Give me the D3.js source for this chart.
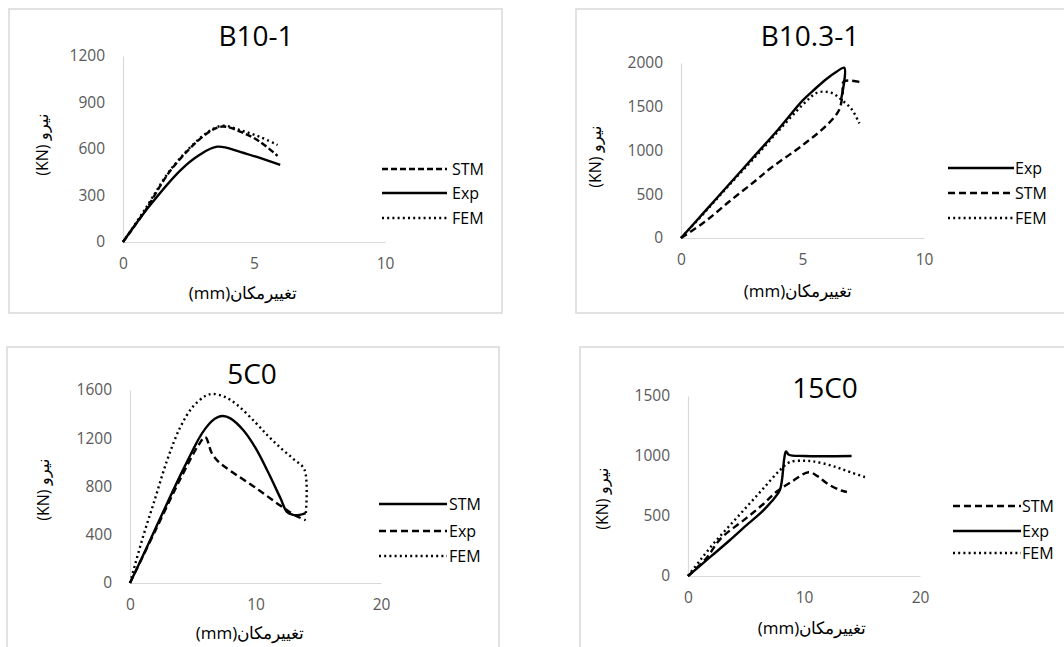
<!DOCTYPE html>
<html><head><meta charset="utf-8">
<script src="https://cdn.jsdelivr.net/npm/d3@7"></script>
<style>
html,body{margin:0;padding:0;background:#fff;}
svg text{font-family:"Open Sans","Noto Sans",sans-serif;}
</style></head>
<body><svg id="c" width="1064" height="647"></svg>
<script>
// ---------- data ----------
const titles = ["B10-1", "B10.3-1", "5C0", "15C0"];
const xTicks1 = [0, 5, 10];
const xTicks2 = [0, 10, 20];
const yTicksB101 = [0, 300, 600, 900, 1200];
const yTicksB103 = [0, 500, 1000, 1500, 2000];
const yTicks5C0 = [0, 400, 800, 1200, 1600];
const yTicks15C0 = [0, 500, 1000, 1500];
const xTitle = "(mm)تغییرمکان";
const yTitle = "(KN) نیرو";

// B10-1
const b101_STM = [[0,0],[0.8,190],[1.9,480],[3.2,700],[3.8,745],[4.5,710],[5.2,650],[5.9,555]];
const b101_Exp = [[0,0],[1,230],[2.2,464],[2.9,560],[3.6,615],[4.5,580],[6.0,497]];
const b101_FEM = [[0,0],[0.8,200],[1.9,485],[3.2,705],[3.8,750],[4.5,720],[5.2,680],[5.9,626]];
// B10.3-1
const b103_Exp = [[0,0],[1,310],[2,620],[3,930],[4,1240],[5,1570],[5.5,1700],[6,1820],[6.4,1900],[6.72,1946],[6.6,1600]];
const b103_STM = [[0,0],[1,190],[2,420],[3,640],[3.7,800],[5,1060],[6,1290],[6.5,1460],[6.65,1650],[6.7,1790],[7.5,1775]];
const b103_FEM = [[0,0],[1,300],[2,610],[3,910],[4,1220],[5,1520],[5.6,1660],[6.0,1670],[6.3,1645],[6.6,1580],[7.0,1480],[7.34,1310]];
// 5C0
const c5_STM = [[0,0],[1,220],[2,445],[3,670],[4,890],[5,1100],[5.5,1200],[6,1280],[6.5,1340],[7,1375],[7.4,1385],[8,1365],[9,1270],[10,1120],[11,920],[12,700],[12.5,590],[13,565],[13.5,565],[14,580]];
const c5_Exp = [[0,0],[2,430],[4,860],[5.5,1150],[6,1210],[6.5,1080],[7,1010],[8,930],[10,790],[12,640],[13,570],[14,520]];
const c5_FEM = [[0,0],[1,370],[2,700],[3,1030],[4,1290],[5,1460],[6,1550],[6.6,1567],[7.5,1545],[8.5,1480],[10,1330],[11,1220],[12,1120],[13,1030],[13.9,940],[14,560]];
// 15C0
const c15_STM = [[0,0],[1.6,150],[2.8,310],[5,480],[6.5,600],[7.6,700],[9,790],[10.4,865],[11.2,830],[12,770],[13,720],[13.7,700]];
const c15_Exp = [[0,0],[2,165],[3.6,298],[5,420],[6.2,519],[7.2,620],[7.9,712],[8.1,800],[8.3,980],[8.45,1038],[8.7,1010],[10,1000],[14.1,1000]];
const c15_FEM = [[0,0],[1,125],[2.2,270],[3.5,410],[5,570],[6.5,730],[7.9,880],[8.8,950],[10,960],[10.8,955],[12,930],[13,900],[14,865],[15.3,823]];

// ---------- layout ----------
const panels = [
  {title:titles[0], border:[9,9,493,304], px:[123,385], py:[242,56], xmax:10, ymax:1200, xt:xTicks1, yt:yTicksB101,
   tpos:[256,35], xtp:[243,292], ytp:[42,145], leg:{x0:382,x1:447,ys:[169,193,218],tx:452}, dash:"6,3",
   series:[{name:"STM",d:b101_STM,s:"dash"},{name:"Exp",d:b101_Exp,s:"solid"},{name:"FEM",d:b101_FEM,s:"dot"}]},
  {title:titles[1], border:[576,9,520,304], px:[681,924], py:[238,63], xmax:10, ymax:2000, xt:xTicks1, yt:yTicksB103,
   tpos:[810,35], xtp:[798,290], ytp:[595,157], leg:{x0:948,x1:1014,ys:[168,193,218],tx:1015}, dash:"7,4",
   series:[{name:"Exp",d:b103_Exp,s:"solid"},{name:"STM",d:b103_STM,s:"dash"},{name:"FEM",d:b103_FEM,s:"dot"}]},
  {title:titles[2], border:[7,347,492,320], px:[130,381], py:[583,390], xmax:20, ymax:1600, xt:xTicks2, yt:yTicks5C0,
   tpos:[252,373], xtp:[250,632], ytp:[43,490], leg:{x0:379,x1:447,ys:[504,531,556],tx:449}, dash:"7,4",
   series:[{name:"STM",d:c5_STM,s:"solid"},{name:"Exp",d:c5_Exp,s:"dash"},{name:"FEM",d:c5_FEM,s:"dot"}]},
  {title:titles[3], border:[580,347,520,320], px:[688,920], py:[576,396], xmax:20, ymax:1500, xt:xTicks2, yt:yTicks15C0,
   tpos:[825,387], xtp:[812,627], ytp:[602,499], leg:{x0:953,x1:1021,ys:[506,531,553],tx:1022}, dash:"7,4",
   series:[{name:"STM",d:c15_STM,s:"dash"},{name:"Exp",d:c15_Exp,s:"solid"},{name:"FEM",d:c15_FEM,s:"dot"}]}
];

const svg = d3.select("#c");
function styleLine(sel, s, dash){
  sel.attr("fill","none").attr("stroke","#000").attr("stroke-width",2.4);
  if (s==="dash") sel.attr("stroke-dasharray",dash);
  if (s==="dot") sel.attr("stroke-dasharray","2,3.2");
}

panels.forEach(p=>{
  const g = svg.append("g");
  g.append("rect").attr("x",p.border[0]).attr("y",p.border[1]).attr("width",p.border[2]).attr("height",p.border[3])
    .attr("fill","#fff").attr("stroke","#d9d9d9").attr("stroke-width",1.5);
  const x = d3.scaleLinear().domain([0,p.xmax]).range(p.px);
  const y = d3.scaleLinear().domain([0,p.ymax]).range(p.py);

  const ya = g.append("g").attr("transform",`translate(${p.px[0]},0)`)
    .call(d3.axisLeft(y).tickValues(p.yt).tickSize(0).tickSizeOuter(0).tickPadding(18).tickFormat(d3.format("d")));
  const xa = g.append("g").attr("transform",`translate(0,${p.py[0]})`)
    .call(d3.axisBottom(x).tickValues(p.xt).tickSize(0).tickSizeOuter(0).tickPadding(16).tickFormat(d3.format("d")));
  [ya,xa].forEach(a=>{
    a.select(".domain").attr("stroke","#d9d9d9").attr("stroke-width",1.2);
    a.selectAll("text").attr("fill","#595959").style("font-size","15.5px");
  });

  g.append("text").attr("x",p.tpos[0]).attr("y",p.tpos[1]).attr("text-anchor","middle").attr("dominant-baseline","central")
    .style("font-size","28px").attr("fill","#000").text(p.title);
  g.append("text").attr("x",p.xtp[0]).attr("y",p.xtp[1]).attr("text-anchor","middle").attr("dominant-baseline","central")
    .style("font-size","17px").attr("fill","#000").text(xTitle);
  g.append("text").attr("transform",`translate(${p.ytp[0]},${p.ytp[1]}) rotate(-90)`).attr("text-anchor","middle").attr("dominant-baseline","central")
    .style("font-size","16px").attr("fill","#000").text(yTitle);

  const line = d3.line().x(d=>x(d[0])).y(d=>y(d[1])).curve(d3.curveCatmullRom.alpha(0.5));
  p.series.forEach((s,i)=>{
    g.append("path").datum(s.d).attr("d",line).call(styleLine,s.s,p.dash);
    const ly = p.leg.ys[i];
    g.append("line").attr("x1",p.leg.x0).attr("x2",p.leg.x1).attr("y1",ly).attr("y2",ly).call(styleLine,s.s,p.dash);
    g.append("text").attr("x",p.leg.tx).attr("y",ly).attr("dominant-baseline","central")
      .style("font-size","16px").attr("fill","#000").text(s.name);
  });
});
</script></body></html>
